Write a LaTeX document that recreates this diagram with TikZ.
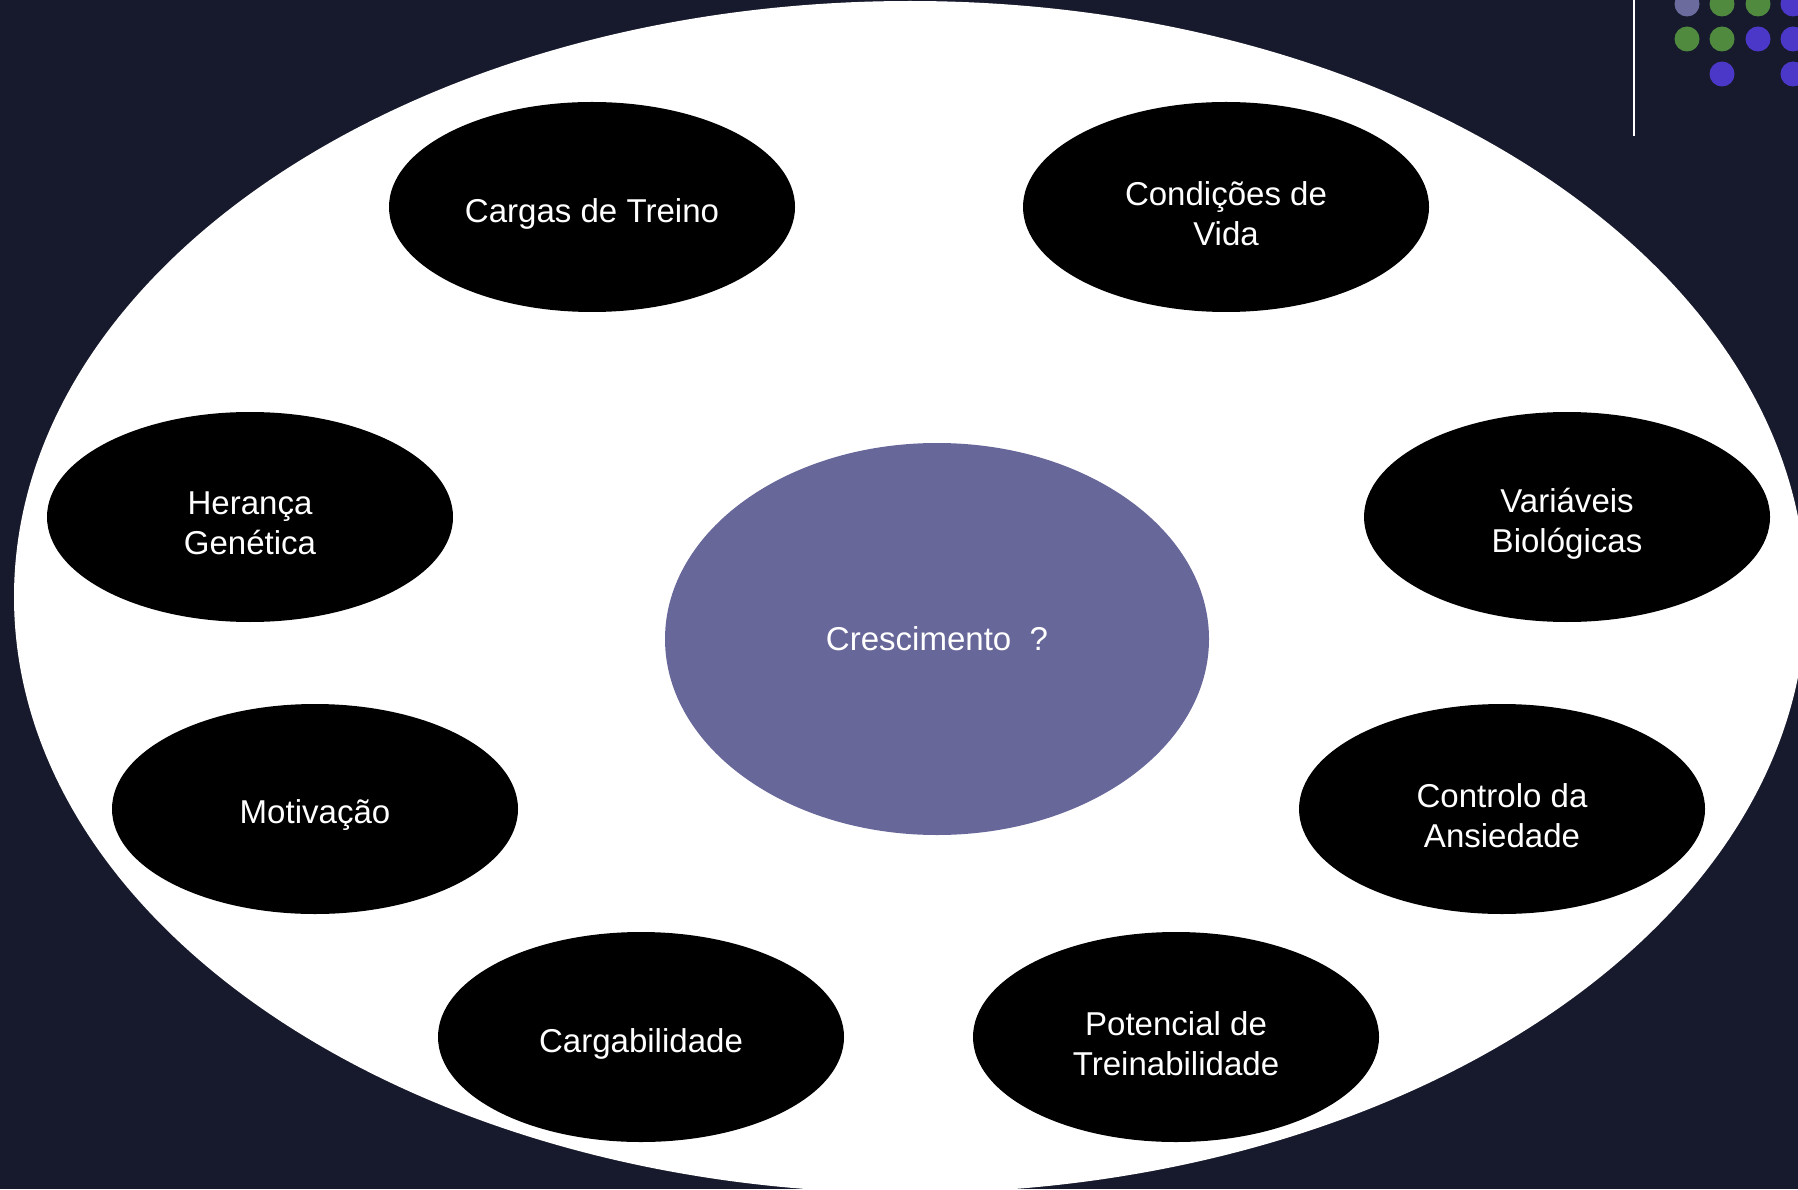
\documentclass[tikz,border=0pt]{standalone}
\usepackage{fontspec}
\setmainfont{Liberation Sans}
\usetikzlibrary{shapes.geometric}
\definecolor{nightblue}{HTML}{171A2C}
\definecolor{hubviolet}{HTML}{67679A}
\definecolor{dotgreen}{HTML}{4F8A3E}
\definecolor{dotblue}{HTML}{4B38C8}
\definecolor{dotgrey}{HTML}{6B6B9E}
\begin{document}
\begin{tikzpicture}[x=0.1mm,y=-0.1mm,
		factortext/.style={text=white,align=center,yshift=-0.65mm,font=\fontsize{9.4}{11.3}\selectfont},
		factor/.style={ellipse,fill=black,inner sep=0pt,minimum width=40.6mm,minimum height=21mm,label={[factortext]center:#1}},
		hub/.style={ellipse,fill=hubviolet,text=white,inner sep=0pt,minimum width=54.4mm,minimum height=39.2mm,font=\fontsize{9.4}{11.3}\selectfont}]
		\useasboundingbox (0,0) rectangle (1798,1189);
		\fill[nightblue] (0,0) rectangle (1798,1189);
		\node (plate) [ellipse,fill=white,inner sep=0pt,minimum width=179.2mm,minimum height=119.2mm] at (910,597) {};
		\node (growth) [hub] at (937,639) {Crescimento\ \ ?};
		\node (loads) [factor={Cargas de Treino}] at (592,207) {};
		\node (living) [factor={Condições de\\Vida}] at (1226,207) {};
		\node (heredity) [factor={Herança\\Genética}] at (250,517) {};
		\node (biology) [factor={Variáveis\\Biológicas}] at (1567,517) {};
		\node (motivation) [factor={Motivação}] at (315,809) {};
		\node (anxiety) [factor={Controlo da\\Ansiedade}] at (1502,809) {};
		\node (loadability) [factor={Cargabilidade}] at (641,1037) {};
		\node (trainability) [factor={Potencial de\\Treinabilidade}] at (1176,1037) {};
		\draw[white,line width=0.25mm] (1634,0)--(1634,136);
		\foreach \x/\y/\c in {1687/4/dotgrey,1722/4/dotgreen,1758/4/dotgreen,1793/4/dotblue,
				1687/39/dotgreen,1722/39/dotgreen,1758/39/dotblue,1793/39/dotblue,
				1722/74/dotblue,1793/74/dotblue}{
			\fill[\c] (\x,\y) circle (1.25mm);
		}
\end{tikzpicture}
\end{document}
